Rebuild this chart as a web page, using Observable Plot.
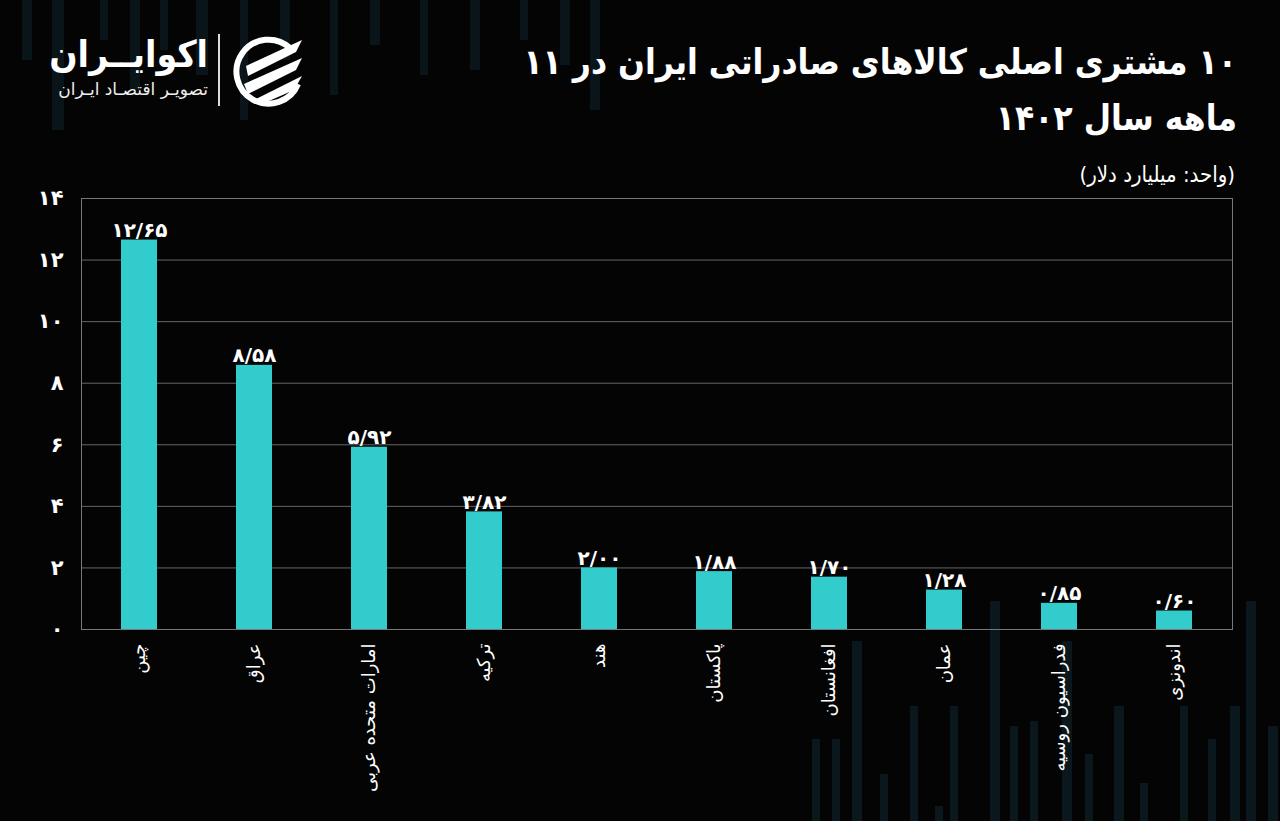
<!DOCTYPE html>
<html>
<head>
<meta charset="utf-8">
<script src="https://cdn.jsdelivr.net/npm/d3@7"></script>
<script src="https://cdn.jsdelivr.net/npm/@observablehq/plot@0.6"></script>
<style>
  html, body { margin: 0; padding: 0; background: #040404; }
  body { width: 1280px; height: 821px; position: relative; overflow: hidden; font-family: "DejaVu Sans", "Noto Sans", sans-serif; color: #fff; }
  #deco { position: absolute; left: 0; top: 0; }
  .title { position: absolute; right: 43px; top: 34px; direction: rtl; text-align: right; font-family: "DejaVu Sans Condensed", "DejaVu Sans", sans-serif; font-stretch: condensed; font-weight: bold; font-size: 35px; line-height: 56px; }
  .subtitle { position: absolute; right: 45px; top: 162px; direction: rtl; font-family: "DejaVu Sans Condensed", "DejaVu Sans", sans-serif; font-stretch: condensed; font-size: 22px; }
  .brand { position: absolute; right: 1072px; top: 32px; direction: rtl; text-align: right; }
  .brand .name { font-size: 37px; font-weight: bold; line-height: 46px; font-family: "DejaVu Sans Condensed", "DejaVu Sans", sans-serif; font-stretch: condensed; }
  .brand .tag { font-size: 17px; line-height: 22px; color: #eee; }
  .sep { position: absolute; left: 218px; top: 34px; width: 2px; height: 72px; background: #ddd; }
  #logo { position: absolute; left: 232px; top: 34px; }
  #chart { position: absolute; left: 0; top: 180px; }
</style>
</head>
<body>
<svg id="deco" width="1280" height="821"></svg>
<div class="brand"><div class="name">اکوایــران</div><div class="tag">تصویـر اقتصـاد ایـران</div></div>
<div class="sep"></div>
<svg id="logo" width="74" height="74" viewBox="0 0 74 74">
  <path d="M58 14 A32 32 0 1 0 66 50" fill="none" stroke="#fff" stroke-width="6"/>
  <path d="M14 32 L70 6 L64 18 L16 42 Z" fill="#fff"/>
  <path d="M12 50 L70 24 L64 36 L16 60 Z" fill="#fff"/>
  <path d="M22 66 L70 42 L62 56 L30 70 Z" fill="#fff"/>
</svg>
<div class="title">۱۰ مشتری اصلی کالاهای صادراتی ایران در ۱۱<br>ماهه سال ۱۴۰۲</div>
<div class="subtitle">(واحد: میلیارد دلار)</div>
<div id="chart"></div>
<script>
const countries = ["چین", "عراق", "امارات متحده عربی", "ترکیه", "هند", "پاکستان", "افغانستان", "عمان", "فدراسیون روسیه", "اندونزی"];
const values = [12.65, 8.58, 5.92, 3.82, 2.00, 1.88, 1.70, 1.28, 0.85, 0.60];
const yTicks = [0, 2, 4, 6, 8, 10, 12, 14];

const faDigits = "۰۱۲۳۴۵۶۷۸۹";
const toFa = s => String(s).replace(/[0-9]/g, d => faDigits[+d]);
const fmtVal = v => toFa(v.toFixed(2)).replace(".", "/");

const data = countries.map((c, i) => ({country: c, value: values[i]}));

// decorative background strips (not data)
(function decorate() {
  const svg = d3.select("#deco");
  const top = [[22,10,60],[52,12,130],[100,8,40],[130,10,90],[160,8,50],[196,12,75],[240,8,120],[280,10,60],[330,8,95],[370,10,45],[420,8,75],[470,10,70],[520,8,40],[560,10,65],[590,10,110]];
  top.forEach(([x,w,h]) => svg.append("rect").attr("x", x).attr("y", 0).attr("width", w).attr("height", h).attr("fill", "#0a171c").attr("opacity", 0.9));
  const bot = [[812,8,82],[832,8,82],[852,10,180],[880,8,47],[910,8,115],[935,8,15],[950,8,115],[990,10,220],[1010,8,95],[1030,8,100],[1062,10,180],[1085,8,67],[1114,10,115],[1140,8,38],[1180,8,115],[1208,8,82],[1230,10,115],[1246,10,220],[1268,10,95]];
  bot.forEach(([x,w,h]) => svg.append("rect").attr("x", x).attr("y", 821 - h).attr("width", w).attr("height", h).attr("fill", "#0b1a20").attr("opacity", 0.9));
})();

const chart = Plot.plot({
  width: 1280,
  height: 641,
  marginTop: 18,
  marginBottom: 192,
  marginLeft: 81,
  marginRight: 48,
  style: {background: "transparent", color: "#fff", fontFamily: "DejaVu Sans, sans-serif"},
  x: {domain: countries, paddingInner: 0.69, paddingOuter: 0.32, label: null},
  y: {domain: [0, 14], ticks: yTicks, label: null},
  marks: [
    Plot.gridY(yTicks, {stroke: "#666", strokeOpacity: 1, strokeWidth: 1}),
    Plot.frame({stroke: "#777", strokeWidth: 1}),
    Plot.barY(data, {x: "country", y: "value", fill: "#33cccc"}),
    Plot.text(data, {x: "country", y: "value", text: d => fmtVal(d.value), lineAnchor: "bottom", dy: -3, fill: "#fff", fontSize: 20, fontWeight: "bold"}),
    Plot.axisY(yTicks, {tickSize: 0, tickPadding: 18, tickFormat: d => toFa(d), fontSize: 21, fontWeight: "bold", fill: "#fff"}),
    Plot.axisX({tickSize: 0, tickPadding: 14, tickRotate: -90, fontSize: 18, fill: "#fff"})
  ]
});
document.getElementById("chart").appendChild(chart);
</script>
</body>
</html>
